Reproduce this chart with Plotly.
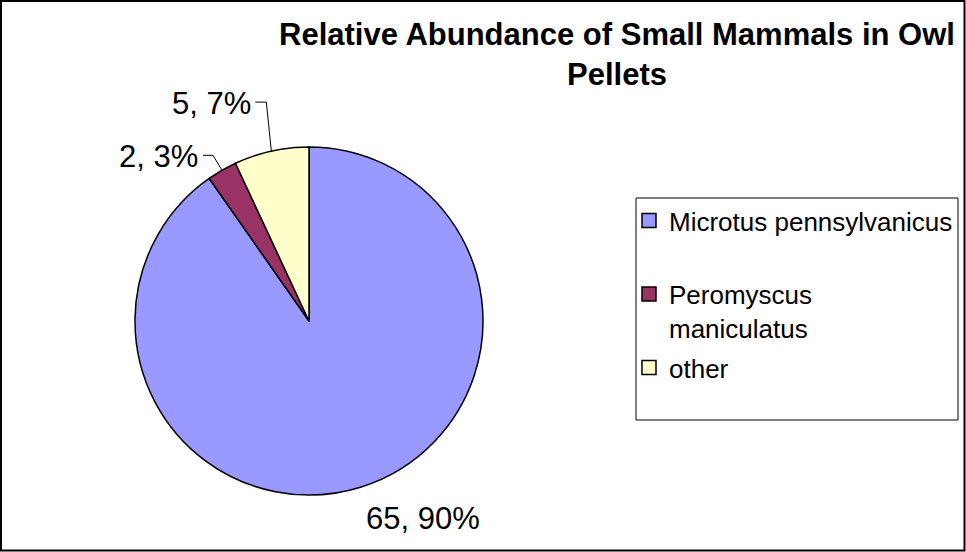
import math
import plotly.graph_objects as go

categories = ["Microtus pennsylvanicus", "Peromyscus maniculatus", "other"]
legend_names = ["Microtus pennsylvanicus<br> ", "Peromyscus<br>maniculatus", "other"]
counts = [65, 2, 5]
colors = ["#9999FF", "#993366", "#FFFFCC"]
title_text = "Relative Abundance of Small Mammals in Owl<br>Pellets"

W, H = 966, 552
FONT = "Liberation Sans, Arial, sans-serif"

# pie placement (pixels)
PIE_L, PIE_R, PIE_T, PIE_B = 135, 483, 147, 495
cx, cy = (PIE_L + PIE_R) / 2, (PIE_T + PIE_B) / 2
R = (PIE_R - PIE_L) / 2


def px(x, y):
    return x / W, 1 - y / H


fig = go.Figure()
fig.add_trace(go.Pie(
    labels=categories,
    values=counts,
    marker=dict(colors=colors, line=dict(color="black", width=1.5)),
    sort=False,
    direction="clockwise",
    rotation=0,
    textinfo="none",
    showlegend=False,
    hoverinfo="label+value+percent",
    domain=dict(x=[PIE_L / W, PIE_R / W], y=[1 - PIE_B / H, 1 - PIE_T / H]),
))

for i, (name, col) in enumerate(zip(legend_names, colors)):
    fig.add_trace(go.Scatter(
        x=[None], y=[None], mode="markers", name=name,
        legendgroup=f"g{i}",
        marker=dict(symbol="square", size=14, color=col, line=dict(color="black", width=1.5)),
        hoverinfo="skip",
    ))

# data labels "value, percent" placed outside the slices
total = sum(counts)
# (text-centre offset from slice edge, leader elbow dx, leader end dx) in px
label_style = [((62, 32), None, None), ((-63, -14), -9, -19), ((-60, -48), -5, -16)]
annotations = []
shapes = []
cum = 0
for v, (off, elbow_dx, end_dx) in zip(counts, label_style):
    mid = (cum + v / 2) / total * 2 * math.pi
    cum += v
    ax_, ay_ = cx + R * math.sin(mid), cy - R * math.cos(mid)
    tx, ty = ax_ + off[0], ay_ + off[1]
    pct = round(100 * v / total)
    x, y = px(tx, ty)
    annotations.append(dict(text=f"{v}, {pct}%", x=x, y=y, xref="paper", yref="paper",
                            xanchor="center", yanchor="middle", showarrow=False,
                            font=dict(family=FONT, size=31, color="black")))
    if elbow_dx is not None:
        p0 = px(ax_, ay_)
        p1 = px(ax_ + elbow_dx, ty - 1)
        p2 = px(ax_ + end_dx, ty - 1)
        shapes.append(dict(type="path", xref="paper", yref="paper",
                           path=f"M{p0[0]},{p0[1]} L{p1[0]},{p1[1]} L{p2[0]},{p2[1]}",
                           line=dict(color="black", width=1)))

shapes += [
    dict(type="rect", xref="paper", yref="paper", x0=1 / W, x1=1 - 1.5 / W, y0=1.5 / H, y1=1 - 1 / H,
         line=dict(color="black", width=2), layer="below"),
    dict(type="rect", xref="paper", yref="paper", x0=636 / W, x1=958 / W, y0=1 - 420 / H, y1=1 - 198 / H,
         line=dict(color="black", width=1), layer="below"),
]

fig.update_layout(
    width=W, height=H,
    margin=dict(l=0, r=0, t=0, b=0),
    paper_bgcolor="white", plot_bgcolor="white",
    title=dict(text=title_text, x=617 / W, xanchor="center", xref="paper",
               y=1 - 45 / H, yanchor="top", yref="container",
               font=dict(family=FONT, size=31, color="black", weight="bold")),
    xaxis=dict(visible=False), yaxis=dict(visible=False),
    legend=dict(x=629 / W, y=1 - 197 / H, xanchor="left", yanchor="top",
                font=dict(family=FONT, size=26, color="black"), valign="top",
                tracegroupgap=3, itemwidth=30, bgcolor="rgba(0,0,0,0)"),
    annotations=annotations,
    shapes=shapes,
)

fig.write_html("out.html", config={"displayModeBar": False},
               post_script="document.body.style.margin='0';document.body.style.overflow='hidden';")
